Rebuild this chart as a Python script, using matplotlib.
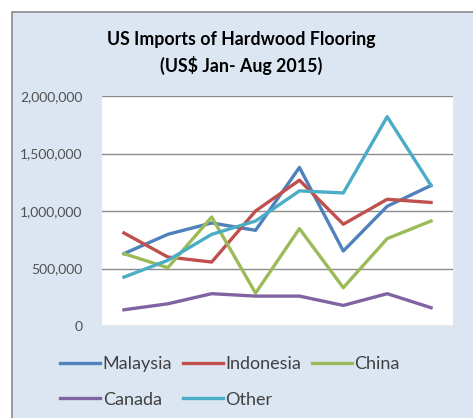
import matplotlib.pyplot as plt
from matplotlib.patches import Rectangle
from matplotlib.ticker import FuncFormatter

months = ['Jan', 'Feb', 'Mar', 'Apr', 'May', 'Jun', 'Jul', 'Aug']
malaysia = [629000, 797000, 896000, 832000, 1379000, 652000, 1041000, 1222000]
indonesia = [809000, 600000, 556000, 1000000, 1268000, 885000, 1102000, 1074000]
china = [629000, 507000, 948000, 286000, 847000, 333000, 760000, 913000]
canada = [141000, 193000, 281000, 260000, 260000, 179000, 281000, 159000]
other = [425000, 571000, 797000, 913000, 1175000, 1157000, 1820000, 1222000]

series = [('Malaysia', malaysia, '#4F81BD'),
          ('Indonesia', indonesia, '#C0504D'),
          ('China', china, '#9BBB59'),
          ('Canada', canada, '#8064A2'),
          ('Other', other, '#4BACC6')]

W, H = 473, 418
fig = plt.figure(figsize=(W / 100, H / 100), dpi=100, facecolor='white')
# light blue chart area with the grey border on top and left
fig.patches.append(Rectangle((11.5 / W, -0.1), 1.2, (H - 11.5) / H + 0.1,
                             transform=fig.transFigure, facecolor='#DCE6F2',
                             edgecolor='#8A8A8A', linewidth=1.2, zorder=-5))

ax = fig.add_axes([102 / W, (H - 326) / H, 351 / W, 230 / H])
ax.set_facecolor('white')
x = range(len(months))
lines = {}
for name, vals, col in series:
    lines[name], = ax.plot(x, vals, color=col, lw=2.4, label=name)

ax.set_xlim(-0.5, 7.5)
ax.set_ylim(0, 2000000)
ax.set_yticks([0, 500000, 1000000, 1500000, 2000000])
ax.yaxis.set_major_formatter(FuncFormatter(lambda v, p: f'{int(v):,}'))
ax.set_xticks([])
ax.tick_params(axis='y', length=0, pad=14, labelsize=10, labelcolor='#505050')
for lab in ax.get_yticklabels():
    lab.set_family('Lato')
ax.grid(axis='y', color='#8C8C8C', lw=1)
ax.set_axisbelow(True)
for s in ax.spines.values():
    s.set_visible(False)

fig.text(241 / W, 1 - 53 / H, 'US Imports of Hardwood Flooring\n(US$ Jan- Aug 2015)',
         ha='center', va='center', fontsize=12.8, fontweight='bold',
         family='Lato', color='black', linespacing=1.45)

# row-wise legend order (matplotlib fills columns first)
order = ['Malaysia', 'Canada', 'Indonesia', 'Other', 'China']
leg = fig.legend([lines[n] for n in order], order, loc='upper left',
                 bbox_to_anchor=(44 / W, 1 - 340 / H), ncol=3,
                 frameon=False, handlelength=2.2, handletextpad=0.15,
                 columnspacing=0.6, labelspacing=1.08,
                 prop={'family': 'Lato', 'size': 13})
for t in leg.get_texts():
    t.set_color('#404040')

fig.savefig('out.png', dpi=100, facecolor=fig.get_facecolor())
